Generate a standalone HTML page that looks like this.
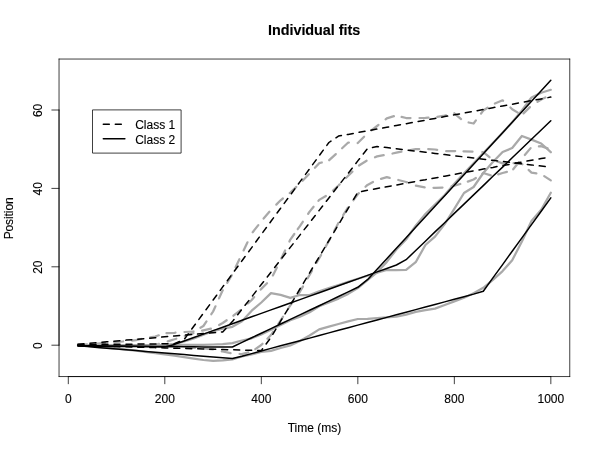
<!DOCTYPE html>
<html><head><meta charset="utf-8"><title>Individual fits</title>
<style>
html,body{margin:0;padding:0;background:#fff;overflow:hidden;}
svg{display:block;font-family:"Liberation Sans",sans-serif;}
text{fill:#000;stroke:#000;stroke-width:0.12px;}
</style></head><body>
<svg width="600" height="450" viewBox="0 0 600 450">
<rect x="0" y="0" width="600" height="450" fill="#fff"/>
<g fill="none" stroke-linejoin="round" stroke-linecap="round">
<g stroke="#a9a9a9" stroke-width="2.25">
<polyline points="78.0,345.0 87.0,344.3"/>
<polyline points="96.1,343.6 97.3,343.5 105.1,342.9"/>
<polyline points="114.2,342.2 116.6,342.0 123.1,341.5"/>
<polyline points="132.2,340.6 135.9,340.2 141.1,339.0"/>
<polyline points="150.1,337.3 155.2,336.5 158.8,335.3"/>
<polyline points="166.5,333.2 174.5,332.8 175.5,332.7"/>
<polyline points="184.5,332.0 193.5,331.5"/>
<polyline points="200.4,327.7 203.4,326.0 206.5,321.4"/>
<polyline points="211.3,314.2 213.1,311.5 215.5,306.3"/>
<polyline points="219.0,298.4 222.7,290.3 222.8,290.2"/>
<polyline points="227.2,282.8 231.8,275.1"/>
<polyline points="235.6,267.3 239.4,259.2"/>
<polyline points="243.6,250.4 247.5,242.3"/>
<polyline points="252.7,232.2 258.3,225.1"/>
<polyline points="263.6,218.6 269.4,211.8"/>
<polyline points="276.3,204.6 280.6,200.3 282.9,198.5"/>
<polyline points="289.7,193.0 290.3,192.5 296.3,186.9"/>
<polyline points="302.6,180.7 308.9,174.2"/>
<polyline points="314.9,167.8 319.2,163.2 321.8,162.5"/>
<polyline points="329.2,160.2 335.8,154.1"/>
<polyline points="342.1,148.2 348.2,142.5 348.9,142.5"/>
<polyline points="357.6,143.0 357.8,143.0 364.1,136.8"/>
<polyline points="371.4,130.4 377.1,126.0 378.5,124.9"/>
<polyline points="385.6,119.3 386.8,118.3 393.9,116.2"/>
<polyline points="401.6,116.9 406.1,118.0 410.5,118.0"/>
<polyline points="419.5,118.0 425.4,117.8 428.5,117.6"/>
<polyline points="437.3,116.9 444.7,115.7 446.1,115.3"/>
<polyline points="454.3,113.3 454.3,113.3 461.1,119.1"/>
<polyline points="468.6,122.5 473.6,123.5 475.9,120.4"/>
<polyline points="481.0,113.6 483.3,110.5 487.6,107.7"/>
<polyline points="494.9,103.5 502.6,100.3 503.1,100.7"/>
<polyline points="510.4,107.5 512.2,109.2 517.8,112.6"/>
<polyline points="523.5,113.4 529.9,107.1"/>
<polyline points="537.5,101.8 541.2,99.5 545.4,97.5"/>
</g>
<g stroke="#a9a9a9" stroke-width="2.25">
<polyline points="78.0,345.4 87.0,345.8"/>
<polyline points="96.0,345.8 97.3,345.8 105.0,345.8"/>
<polyline points="114.1,345.8 116.6,345.8 123.1,345.8"/>
<polyline points="132.1,345.8 135.9,345.8 141.1,345.7"/>
<polyline points="150.2,345.3 155.2,345.0 159.0,343.9"/>
<polyline points="167.7,341.4 174.5,339.3 176.3,338.7"/>
<polyline points="184.8,335.8 193.4,333.1"/>
<polyline points="202.1,330.7 203.4,330.3 210.9,328.7"/>
<polyline points="219.1,325.0 222.7,323.0 226.7,320.3"/>
<polyline points="233.4,315.7 240.6,310.1"/>
<polyline points="247.9,303.5 251.7,300.0 254.2,297.1"/>
<polyline points="260.7,289.6 261.3,288.9 267.0,283.2"/>
<polyline points="272.9,275.4 276.9,267.4"/>
<polyline points="281.3,258.5 285.1,250.4"/>
<polyline points="289.4,241.5 290.3,239.6 294.3,234.0"/>
<polyline points="297.7,229.2 299.9,226.1 302.8,221.8"/>
<polyline points="308.1,213.9 309.6,211.6 313.6,206.8"/>
<polyline points="318.4,200.9 319.2,199.9 325.9,196.0"/>
<polyline points="333.0,190.5 338.5,185.5 339.6,184.4"/>
<polyline points="346.0,178.0 348.2,175.8 352.4,171.6"/>
<polyline points="359.0,165.5 366.6,160.8"/>
<polyline points="375.0,157.3 377.1,156.4 383.7,155.2"/>
<polyline points="392.5,153.5 396.4,152.7 401.4,151.7"/>
<polyline points="410.3,150.0 415.7,149.0 419.2,149.0"/>
<polyline points="428.2,149.1 435.0,149.5 437.2,149.9"/>
<polyline points="446.2,151.2 454.3,151.0 455.2,151.0"/>
<polyline points="463.5,151.3 464.0,151.3 472.5,151.6"/>
<polyline points="482.3,152.1 483.3,152.2 489.5,157.2"/>
<polyline points="496.7,161.3 502.6,163.4 505.3,163.3"/>
<polyline points="513.6,163.2 521.9,163.7 522.4,164.2"/>
<polyline points="528.6,169.9 531.5,172.6 536.4,173.4"/>
<polyline points="544.2,176.1 550.8,180.4"/>
</g>
<g stroke="#a9a9a9" stroke-width="2.25">
<polyline points="78.0,345.0 87.0,345.1"/>
<polyline points="96.0,345.3 97.3,345.3 105.0,345.4"/>
<polyline points="114.0,345.5 116.6,345.5 123.0,345.6"/>
<polyline points="132.0,345.8 135.9,345.8 141.0,345.9"/>
<polyline points="150.0,346.0 155.2,346.2 159.0,346.4"/>
<polyline points="168.1,346.7 174.5,347.0 177.0,347.1"/>
<polyline points="186.1,347.5 193.8,347.8 195.0,347.9"/>
<polyline points="204.1,348.4 213.0,349.3"/>
<polyline points="221.8,351.3 222.7,351.5 230.6,353.1"/>
<polyline points="239.6,354.0 242.0,354.2 248.3,352.4"/>
<polyline points="255.3,349.1 261.3,345.0 262.5,343.8"/>
<polyline points="267.4,338.7 271.0,335.0 273.1,331.8"/>
<polyline points="278.2,324.2 280.6,320.5 283.1,316.7"/>
<polyline points="288.0,309.0 290.3,305.4 293.0,301.5"/>
<polyline points="298.3,294.1 299.9,291.8 303.0,286.4"/>
<polyline points="307.5,278.4 309.6,274.9 312.0,270.6"/>
<polyline points="316.6,262.7 319.2,258.2 321.1,254.9"/>
<polyline points="325.5,246.9 328.9,240.9 329.9,239.0"/>
<polyline points="334.2,231.0 338.4,223.0"/>
<polyline points="343.2,215.2 347.9,207.6"/>
<polyline points="353.3,200.2 357.8,194.2 358.9,193.2"/>
<polyline points="365.5,186.8 367.5,184.9 373.0,182.0"/>
<polyline points="381.0,178.8 386.8,177.2 389.7,177.9"/>
<polyline points="398.3,180.0 406.1,182.0 407.0,182.4"/>
<polyline points="415.9,185.7 424.7,187.4"/>
<polyline points="433.5,187.8 435.0,187.8 442.5,187.6"/>
<polyline points="451.6,186.2 454.3,185.7 460.3,184.0"/>
<polyline points="467.8,181.6 473.6,179.5 475.9,178.0"/>
<polyline points="482.4,173.6 483.3,173.0 490.8,175.3"/>
<polyline points="498.2,174.4 502.6,173.0 506.9,171.9"/>
<polyline points="513.2,169.3 518.8,162.3"/>
<polyline points="524.8,155.0 530.6,148.1"/>
<polyline points="538.9,146.4 541.2,146.2 547.6,148.4"/>
</g>
<polyline stroke="#a9a9a9" stroke-width="2.25" points="78.0,345.0 87.6,345.1 97.3,345.2 106.9,345.2 116.6,345.2 126.2,345.3 135.9,345.3 145.5,345.3 155.2,345.3 164.8,345.3 174.5,344.9 184.1,344.9 193.8,344.9 203.4,344.9 213.1,344.5 222.7,344.1 232.4,343.1 242.0,340.5 251.7,338.3 261.3,334.4 271.0,329.8 280.6,325.0 290.3,320.2 299.9,316.8 309.6,312.3 319.2,306.3 328.9,302.4 338.5,298.6 348.2,293.9 357.8,288.1 367.5,280.1 377.1,272.3 386.8,261.9 396.4,249.5 406.1,239.5 415.7,225.7 425.4,214.0 435.0,204.5 444.7,195.0 454.3,183.7 464.0,173.2 473.6,163.3 483.3,153.0 492.9,143.0 502.6,132.7 512.2,122.3 521.9,110.5 531.5,97.5 541.2,92.8 550.8,89.8"/>
<polyline stroke="#a9a9a9" stroke-width="2.25" points="78.0,345.0 87.6,345.0 97.3,345.0 106.9,345.0 116.6,345.0 126.2,345.0 135.9,345.0 145.5,345.0 155.2,345.0 164.8,345.0 174.5,343.9 184.1,341.5 193.8,338.5 203.4,334.7 213.1,331.1 222.7,328.7 232.4,326.8 242.0,321.2 251.7,310.7 261.3,302.5 271.0,293.1 280.6,294.9 290.3,297.9 299.9,295.0 309.6,295.0 319.2,291.3 328.9,288.1 338.5,285.0 348.2,281.9 357.8,278.8 367.5,275.7 377.1,272.7 386.8,270.0 396.4,270.0 406.1,269.9 415.7,262.2 425.4,245.0 435.0,236.6 444.7,224.1 454.3,208.9 464.0,193.0 473.6,187.0 483.3,173.0 492.9,162.0 502.6,152.0 512.2,148.0 521.9,136.0 531.5,139.6 541.2,143.5 550.8,152.2"/>
<polyline stroke="#a9a9a9" stroke-width="2.25" points="78.0,345.0 87.6,345.9 97.3,346.9 106.9,347.8 116.6,348.7 126.2,349.6 135.9,350.7 145.5,351.9 155.2,353.1 164.8,354.4 174.5,355.7 184.1,357.1 193.8,358.6 203.4,360.0 213.1,360.8 222.7,360.4 232.4,359.3 242.0,356.5 251.7,354.3 261.3,352.0 271.0,350.8 280.6,348.0 290.3,345.4 299.9,341.0 309.6,335.5 319.2,329.4 328.9,326.7 338.5,324.0 348.2,321.3 357.8,319.0 367.5,318.8 377.1,318.1 386.8,317.4 396.4,316.7 406.1,314.7 415.7,311.9 425.4,310.1 435.0,308.6 444.7,305.0 454.3,301.4 464.0,297.8 473.6,293.2 483.3,287.8 492.9,279.8 502.6,271.1 512.2,260.2 521.9,241.6 531.5,221.0 541.2,209.8 550.8,192.8"/>
<polyline stroke="#000" stroke-width="1.5" stroke-dasharray="6,6" points="78.0,344.6 87.6,344.5 97.3,344.4 106.9,344.3 116.6,344.3 126.2,344.2 135.9,344.1 145.5,344.0 155.2,343.9 164.8,343.8 174.5,343.8 184.1,339.5 193.8,326.3 203.4,313.2 213.1,300.1 222.7,286.9 232.4,273.8 242.0,260.7 251.7,247.6 261.3,234.4 271.0,221.3 280.6,208.2 290.3,195.1 299.9,181.9 309.6,168.8 319.2,155.7 328.9,142.5 338.5,136.1 348.2,134.4 357.8,132.6 367.5,130.8 377.1,129.0 386.8,127.3 396.4,125.5 406.1,123.7 415.7,121.9 425.4,120.2 435.0,118.4 444.7,116.6 454.3,114.8 464.0,113.1 473.6,111.3 483.3,109.5 492.9,107.7 502.6,106.0 512.2,104.2 521.9,102.4 531.5,100.6 541.2,98.9 550.8,97.1"/>
<polyline stroke="#000" stroke-width="1.5" stroke-dasharray="6,6" points="78.0,344.2 87.6,343.4 97.3,342.6 106.9,341.8 116.6,340.9 126.2,340.1 135.9,339.3 145.5,338.5 155.2,337.7 164.8,336.8 174.5,336.0 184.1,335.2 193.8,334.4 203.4,333.6 213.1,332.8 222.7,331.9 232.4,321.6 242.0,309.2 251.7,296.9 261.3,284.5 271.0,272.2 280.6,259.8 290.3,247.4 299.9,235.1 309.6,222.7 319.2,210.4 328.9,198.0 338.5,185.6 348.2,173.3 357.8,160.9 367.5,148.6 377.1,146.5 386.8,147.6 396.4,148.8 406.1,149.9 415.7,151.1 425.4,152.2 435.0,153.4 444.7,154.6 454.3,155.7 464.0,156.9 473.6,158.0 483.3,159.2 492.9,160.3 502.6,161.5 512.2,162.6 521.9,163.8 531.5,164.9 541.2,166.1 550.8,167.2"/>
<g stroke="#000" stroke-width="1.5">
<polyline points="78.0,345.5 83.9,345.7"/>
<polyline points="89.9,345.8 95.9,346.0"/>
<polyline points="101.9,346.2 106.9,346.3 107.9,346.3"/>
<polyline points="113.9,346.5 116.6,346.6 119.9,346.7"/>
<polyline points="125.9,346.8 126.2,346.8 131.9,347.0"/>
<polyline points="137.8,347.2 143.8,347.3"/>
<polyline points="149.8,347.5 155.2,347.6 155.8,347.7"/>
<polyline points="161.8,347.8 164.8,347.9 167.8,348.0"/>
<polyline points="173.8,348.2 174.5,348.2 179.8,348.3"/>
<polyline points="185.8,348.5 191.8,348.7"/>
<polyline points="197.7,348.8 203.4,349.0 203.7,349.0"/>
<polyline points="209.7,349.2 213.1,349.3 215.7,349.3"/>
<polyline points="221.7,349.5 222.7,349.5 227.7,349.7"/>
<polyline points="233.7,349.8 239.7,350.0"/>
<polyline points="245.7,350.2 251.7,350.3 251.7,350.3"/>
<polyline points="257.6,350.5 261.3,350.6 262.6,348.8"/>
<polyline points="266.1,344.0 269.6,339.2"/>
<polyline points="272.8,334.3 275.9,329.1"/>
<polyline points="278.9,324.1 280.6,321.2 282.0,318.9"/>
<polyline points="285.0,313.9 288.1,308.8"/>
<polyline points="291.1,303.7 294.2,298.6"/>
<polyline points="297.2,293.6 299.9,289.0 300.3,288.4"/>
<polyline points="303.3,283.4 306.4,278.2"/>
<polyline points="309.4,273.2 309.6,272.9 312.5,268.0"/>
<polyline points="315.5,263.0 318.6,257.9"/>
<polyline points="321.6,252.8 324.7,247.7"/>
<polyline points="327.7,242.7 328.9,240.6 330.8,237.5"/>
<polyline points="333.8,232.5 336.8,227.3"/>
<polyline points="339.9,222.3 342.9,217.1"/>
<polyline points="346.0,212.0 348.2,208.4 349.1,206.9"/>
<polyline points="353.6,199.3 356.7,194.1"/>
<polyline points="361.6,191.5 367.4,190.3"/>
<polyline points="373.5,189.2 377.1,188.5 379.5,188.1"/>
<polyline points="385.2,187.0 386.8,186.7 391.2,185.9"/>
<polyline points="396.9,184.9 402.9,183.8"/>
<polyline points="408.6,182.8 414.6,181.7"/>
<polyline points="420.3,180.6 425.4,179.7 426.3,179.5"/>
<polyline points="432.0,178.5 435.0,177.9 438.0,177.4"/>
<polyline points="443.7,176.3 444.7,176.2 449.7,175.3"/>
<polyline points="455.3,174.2 461.3,173.1"/>
<polyline points="467.2,172.1 473.1,171.0"/>
<polyline points="479.0,169.9 483.3,169.1 485.0,168.8"/>
<polyline points="491.0,167.7 492.9,167.4 497.0,166.6"/>
<polyline points="503.0,165.5 509.0,164.4"/>
<polyline points="515.0,163.3 521.0,162.2"/>
<polyline points="527.0,161.1 531.5,160.3 533.0,160.1"/>
<polyline points="539.0,158.9 541.2,158.5 545.0,157.9"/>
</g>
<polyline stroke="#000" stroke-width="1.5" points="78.0,345.6 87.6,345.7 97.3,345.8 106.9,345.9 116.6,346.0 126.2,346.1 135.9,346.2 145.5,346.3 155.2,346.4 164.8,346.5 174.5,346.6 184.1,346.7 193.8,346.8 203.4,346.9 213.1,347.0 222.7,347.1 232.4,347.0 242.0,342.4 251.7,337.8 261.3,333.2 271.0,328.6 280.6,324.0 290.3,319.4 299.9,314.9 309.6,310.3 319.2,305.7 328.9,301.1 338.5,296.5 348.2,291.9 357.8,287.3 367.5,279.7 377.1,269.2 386.8,258.7 396.4,248.2 406.1,237.7 415.7,227.2 425.4,216.7 435.0,206.2 444.7,195.7 454.3,185.2 464.0,174.7 473.6,164.2 483.3,153.7 492.9,143.2 502.6,132.7 512.2,122.2 521.9,111.7 531.5,101.2 541.2,90.7 550.8,80.2"/>
<polyline stroke="#000" stroke-width="1.5" points="78.0,346.1 87.6,346.2 97.3,346.3 106.9,346.4 116.6,346.4 126.2,346.5 135.9,346.6 145.5,346.7 155.2,346.8 164.8,346.9 174.5,344.4 184.1,341.0 193.8,337.5 203.4,334.1 213.1,330.6 222.7,327.2 232.4,323.7 242.0,320.3 251.7,316.8 261.3,313.4 271.0,309.9 280.6,306.5 290.3,303.0 299.9,299.6 309.6,296.1 319.2,292.7 328.9,289.2 338.5,285.8 348.2,282.3 357.8,278.9 367.5,275.4 377.1,271.9 386.8,268.5 396.4,265.0 406.1,259.7 415.7,250.5 425.4,241.2 435.0,231.9 444.7,222.7 454.3,213.4 464.0,204.1 473.6,194.9 483.3,185.6 492.9,176.3 502.6,167.1 512.2,157.8 521.9,148.5 531.5,139.3 541.2,130.0 550.8,120.7"/>
<polyline stroke="#000" stroke-width="1.5" points="78.0,345.8 87.6,346.6 97.3,347.4 106.9,348.2 116.6,349.0 126.2,349.8 135.9,350.6 145.5,351.4 155.2,352.2 164.8,353.0 174.5,353.8 184.1,354.6 193.8,355.4 203.4,356.2 213.1,357.0 222.7,357.8 232.4,358.5 242.0,356.2 251.7,353.6 261.3,351.0 271.0,348.4 280.6,345.8 290.3,343.3 299.9,340.7 309.6,338.1 319.2,335.5 328.9,332.9 338.5,330.3 348.2,327.7 357.8,325.1 367.5,322.6 377.1,320.0 386.8,317.4 396.4,314.8 406.1,312.2 415.7,309.6 425.4,307.0 435.0,304.5 444.7,301.9 454.3,299.3 464.0,296.7 473.6,294.1 483.3,291.2 492.9,277.9 502.6,264.6 512.2,251.2 521.9,237.9 531.5,224.6 541.2,211.3 550.8,197.9"/>
</g>
<g fill="none" stroke="#000" stroke-width="0.75" stroke-linecap="round" stroke-linejoin="round">
<line x1="68.30" y1="376.56" x2="68.30" y2="383.76"/>
<line x1="164.81" y1="376.56" x2="164.81" y2="383.76"/>
<line x1="261.32" y1="376.56" x2="261.32" y2="383.76"/>
<line x1="357.83" y1="376.56" x2="357.83" y2="383.76"/>
<line x1="454.34" y1="376.56" x2="454.34" y2="383.76"/>
<line x1="550.84" y1="376.56" x2="550.84" y2="383.76"/>
<line x1="68.30" y1="376.56" x2="550.84" y2="376.56"/>
<line x1="59.04" y1="345.20" x2="51.839999999999996" y2="345.20"/>
<line x1="59.04" y1="266.80" x2="51.839999999999996" y2="266.80"/>
<line x1="59.04" y1="188.40" x2="51.839999999999996" y2="188.40"/>
<line x1="59.04" y1="110.00" x2="51.839999999999996" y2="110.00"/>
<line x1="59.04" y1="345.20" x2="59.04" y2="110.00"/>
<path d="M59.04,59.04H569.76"/><path d="M569.76,59.04V376.56"/><path d="M569.76,376.56H59.04"/><path d="M59.04,376.56V59.04"/>
</g>
<g font-size="12px" text-anchor="middle">
<text x="68.30" y="403.0">0</text>
<text x="164.81" y="403.0">200</text>
<text x="261.32" y="403.0">400</text>
<text x="357.83" y="403.0">600</text>
<text x="454.34" y="403.0">800</text>
<text x="550.84" y="403.0">1000</text>
<text transform="translate(41.9,345.60) rotate(-90)">0</text>
<text transform="translate(41.9,267.20) rotate(-90)">20</text>
<text transform="translate(41.9,188.80) rotate(-90)">40</text>
<text transform="translate(41.9,110.40) rotate(-90)">60</text>
<text x="314.40" y="431.6">Time (ms)</text>
<text transform="translate(13.0,218.40) rotate(-90)" letter-spacing="-0.1">Position</text>
</g>
<text x="314.10" y="34.5" font-size="14.4px" font-weight="bold" text-anchor="middle" letter-spacing="-0.04" stroke="none">Individual fits</text>
<g>
<path d="M92.5,109.9h88.6v43.2h-88.6Z" fill="#fff" stroke="#000" stroke-width="0.75" stroke-linejoin="round"/>
<line x1="103.3" y1="124.3" x2="124.9" y2="124.3" stroke="#000" stroke-width="1.5" stroke-dasharray="6,6" stroke-linecap="round"/>
<line x1="103.3" y1="138.7" x2="124.9" y2="138.7" stroke="#000" stroke-width="1.5" stroke-linecap="round"/>
<text x="135.2" y="128.9" font-size="12px">Class 1</text>
<text x="135.2" y="143.8" font-size="12px">Class 2</text>
</g>
</svg></body></html>
